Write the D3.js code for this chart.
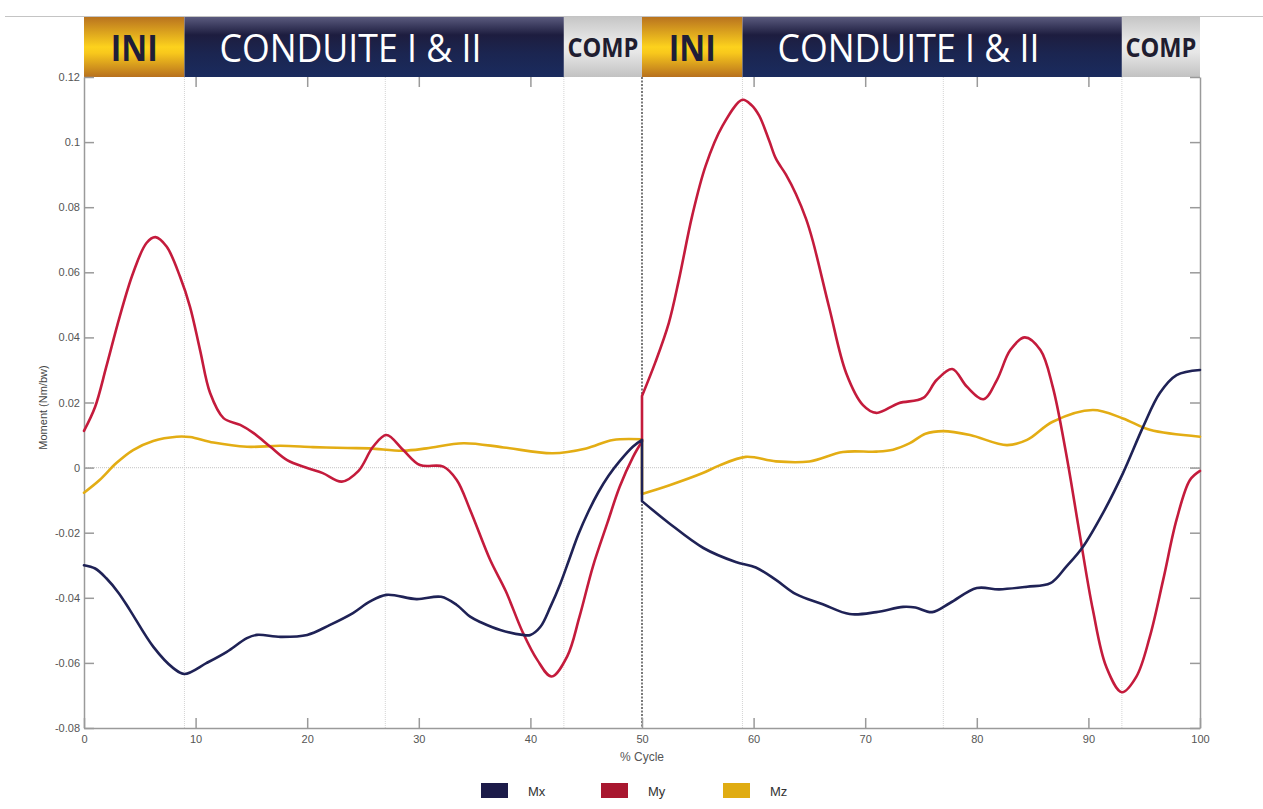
<!DOCTYPE html>
<html>
<head>
<meta charset="utf-8">
<script src="https://cdn.jsdelivr.net/npm/d3@7"></script>
<style>
  html, body { margin: 0; padding: 0; background: #fff; }
  svg { display: block; }
  text { font-family: "Liberation Sans", Arial, Helvetica, sans-serif; }
</style>
</head>
<body>
<svg id="chart" width="1263" height="809"></svg>
<script>
// ---- data: moments over the gait cycle (two halves, discontinuous at 50 %) ----
const mxFirst = [[0,-0.030],[1,-0.031],[2,-0.034],[3.1,-0.0385],[4.1,-0.0437],[6.2,-0.055],[8,-0.0616],[9,-0.0634],[11,-0.060],[12.8,-0.0566],[14.6,-0.0524],[15.5,-0.0514],[17.6,-0.052],[20,-0.0514],[22,-0.0484],[24.1,-0.0447],[25.6,-0.0412],[27.1,-0.0391],[29.8,-0.0404],[32,-0.0397],[33.4,-0.0422],[34.6,-0.0458],[35.6,-0.0476],[37.3,-0.0499],[39.3,-0.0514],[40,-0.0514],[40.9,-0.0489],[41.8,-0.0427],[42.7,-0.0355],[43.5,-0.028],[44.3,-0.0205],[45.2,-0.0135],[46.1,-0.0075],[47,-0.0025],[48,0.002],[49.2,0.0065],[50,0.0085]];
const myFirst = [[0,0.0113],[1,0.0187],[2,0.031],[3.2,0.0464],[4.4,0.0598],[5.6,0.069],[6.4,0.0708],[7.4,0.0679],[8.6,0.0587],[9.5,0.0494],[10.4,0.0361],[11.3,0.0229],[12.5,0.0152],[14,0.0131],[15.2,0.0106],[16.7,0.0064],[18.2,0.0023],[20,-0.0001],[21.4,-0.0017],[23.1,-0.0043],[24.6,-0.001],[25.9,0.0064],[27.1,0.010],[28.6,0.0054],[30.1,0.0008],[32.2,0.0003],[33.4,-0.0038],[34.6,-0.013],[36.4,-0.0284],[37.8,-0.038],[39.3,-0.0505],[40.6,-0.059],[41.9,-0.0642],[43.3,-0.058],[44.4,-0.0458],[45.6,-0.0304],[46.9,-0.017],[48,-0.0059],[49.2,0.0033],[50,0.008]];
const mzFirst = [[0,-0.0077],[1.4,-0.0038],[2.9,0.0014],[4.4,0.0054],[6.2,0.0082],[8.3,0.0095],[9.5,0.0094],[11.6,0.0077],[14.6,0.0064],[17.6,0.0067],[20.5,0.0063],[23.6,0.006],[25.6,0.0059],[28.6,0.0052],[30.7,0.0059],[34,0.0075],[37.6,0.0062],[42,0.0044],[45,0.0059],[47.4,0.0085],[50,0.0087]];

const mxSecond = [[50,-0.0103],[52.4,-0.017],[55.5,-0.0247],[58.4,-0.029],[60.2,-0.0307],[62,-0.0345],[63.8,-0.0389],[66.2,-0.042],[68.6,-0.045],[71,-0.0444],[73.4,-0.0428],[74.5,-0.043],[76,-0.0444],[77.6,-0.0416],[80,-0.037],[82,-0.0374],[84.5,-0.0366],[86.6,-0.0355],[88,-0.0305],[89.5,-0.0244],[91.3,-0.014],[93.1,-0.0017],[94.9,0.0125],[96.4,0.0229],[97.9,0.0284],[100,0.030]];
const mySecond = [[50,0.022],[51.2,0.0324],[52.4,0.0444],[53.3,0.0576],[54.5,0.0774],[55.7,0.0927],[57.2,0.1049],[59,0.113],[59.8,0.1114],[60.5,0.1081],[61.4,0.1004],[62,0.0949],[62.9,0.090],[63.8,0.084],[64.7,0.0764],[65.3,0.0697],[66.8,0.0488],[68.3,0.029],[69.8,0.0192],[71,0.0168],[73,0.0198],[75.2,0.0214],[76.4,0.0269],[77.8,0.0303],[79.1,0.0249],[80.6,0.021],[81.8,0.0269],[83,0.0361],[84.3,0.040],[85.7,0.0361],[86.8,0.0249],[88,0.0044],[89.2,-0.020],[90.4,-0.0437],[91.6,-0.0612],[93,-0.069],[94.3,-0.0642],[95.5,-0.052],[96.7,-0.0345],[97.9,-0.016],[99.1,-0.0038],[100,-0.001]];
const mzSecond = [[50,-0.0081],[52.4,-0.0055],[55.5,-0.0016],[56.9,0.0006],[59.3,0.0033],[62,0.0019],[65,0.0019],[68,0.0048],[71,0.0049],[72.5,0.0055],[74,0.0075],[75.4,0.0104],[77,0.0112],[79.4,0.010],[82.7,0.0069],[84.5,0.0085],[86.8,0.0141],[90.4,0.0177],[93.1,0.0151],[95.5,0.0116],[100,0.0095]];

const seriesNames = ["Mx", "My", "Mz"];
const seriesColors = ["#1f2256", "#c41b3c", "#e3ad14"];
const legendColors = ["#1c1b49", "#a8172f", "#e0ac12"];

// phase bands along the top (start %, end %, label)
const phaseStarts = [0, 9, 43, 50, 59, 93];
const phaseEnds   = [9, 43, 50, 59, 93, 100];
const phaseLabels = ["INI", "CONDUITE I & II", "COMP", "INI", "CONDUITE I & II", "COMP"];
const phaseKinds  = ["ini", "cond", "comp", "ini", "cond", "comp"];

// phase boundaries drawn as faint dotted verticals
const phaseLines = [9, 27, 43, 59, 77, 93];

const xTicks = [0, 10, 20, 30, 40, 50, 60, 70, 80, 90, 100];
const yTicks = [0.12, 0.1, 0.08, 0.06, 0.04, 0.02, 0, -0.02, -0.04, -0.06, -0.08];
const yTickLabels = ["0.12", "0.1", "0.08", "0.06", "0.04", "0.02", "0", "-0.02", "-0.04", "-0.06", "-0.08"];

(function draw() {
  const svg = d3.select("#chart");
  const pLeft = 84, pRight = 1200, pTop = 77, pBottom = 728;
  const x = d3.scaleLinear().domain([0, 100]).range([pLeft, pRight]);
  const y = d3.scaleLinear().domain([-0.08, 0.12]).range([pBottom, pTop]);

  const defs = svg.append("defs");
  function vGrad(id, stops) {
    const g = defs.append("linearGradient").attr("id", id)
      .attr("x1", 0).attr("y1", 0).attr("x2", 0).attr("y2", 1);
    stops.forEach(([o, c]) => g.append("stop").attr("offset", o).attr("stop-color", c));
  }
  vGrad("g-ini",  [[0, "#b9731f"], [0.5, "#fdd21d"], [0.6, "#f8c81c"], [1, "#b7701e"]]);
  vGrad("g-cond", [[0, "#5a5a7e"], [0.3, "#1d1d3f"], [0.6, "#1b2550"], [1, "#1a2b5e"]]);
  vGrad("g-comp", [[0, "#c6c6c6"], [0.45, "#ebebeb"], [0.6, "#e6e6e6"], [1, "#c2c2c2"]]);

  // thin rule across the top
  svg.append("line").attr("x1", 5).attr("x2", 1263).attr("y1", 16.5).attr("y2", 16.5)
    .attr("stroke", "#c4c4c4").attr("stroke-width", 1.2);

  // phase band header
  const header = svg.append("g");
  phaseStarts.forEach((s, i) => {
    const x0 = x(s), x1 = x(phaseEnds[i]);
    header.append("rect").attr("x", x0).attr("y", 17).attr("width", x1 - x0).attr("height", pTop - 17)
      .attr("fill", `url(#g-${phaseKinds[i]})`);
    const kind = phaseKinds[i];
    const t = header.append("text").text(phaseLabels[i])
      .style("font-family", "'Liberation Sans Narrow', 'Open Sans', 'Liberation Sans', sans-serif");
    if (kind === "ini") {
      t.attr("x", (x0 + x1) / 2).attr("y", 61).attr("text-anchor", "middle")
        .attr("font-size", 35).attr("font-weight", "bold").attr("fill", "#1f1d38")
        .attr("textLength", 47).attr("lengthAdjust", "spacingAndGlyphs");
    } else if (kind === "cond") {
      t.attr("x", x0 + 35).attr("y", 62)
        .attr("font-size", 38).attr("fill", "#ffffff")
        .attr("textLength", 262).attr("lengthAdjust", "spacingAndGlyphs");
    } else {
      t.attr("x", (x0 + x1) / 2).attr("y", 57).attr("text-anchor", "middle")
        .attr("font-size", 26).attr("font-weight", "bold").attr("fill", "#1f1d30")
        .attr("textLength", 71).attr("lengthAdjust", "spacingAndGlyphs");
    }
  });

  // dotted guides
  const guides = svg.append("g");
  phaseLines.forEach(p => {
    guides.append("line").attr("x1", x(p)).attr("x2", x(p)).attr("y1", pTop).attr("y2", pBottom)
      .attr("stroke", "#d4d4d4").attr("stroke-width", 1).attr("stroke-dasharray", "1,1");
  });
  guides.append("line").attr("x1", pLeft).attr("x2", pRight).attr("y1", y(0)).attr("y2", y(0))
    .attr("stroke", "#cfcfcf").attr("stroke-width", 1.2).attr("stroke-dasharray", "1,1");
  guides.append("line").attr("x1", x(50)).attr("x2", x(50)).attr("y1", pTop).attr("y2", pBottom)
    .attr("stroke", "#222").attr("stroke-width", 1.2).attr("stroke-dasharray", "2,1.5");

  // axes
  function styleAxis(g) {
    g.selectAll(".domain").attr("stroke", "#9a9a9a").attr("stroke-width", 1.5);
    g.selectAll(".tick line").attr("stroke", "#9a9a9a").attr("stroke-width", 1.5);
    g.selectAll(".tick text").attr("fill", "#555").attr("font-size", 11)
      .style("font-family", "'Liberation Sans', Arial, sans-serif");
  }
  svg.append("g").attr("transform", `translate(0,${pBottom})`)
    .call(d3.axisBottom(x).tickValues(xTicks).tickSizeInner(-10).tickSizeOuter(0).tickPadding(7))
    .call(styleAxis);
  svg.append("g").attr("transform", `translate(${pLeft},0)`)
    .call(d3.axisLeft(y).tickValues(yTicks).tickSizeInner(-10).tickSizeOuter(0).tickPadding(4)
      .tickFormat((d, i) => yTickLabels[i]))
    .call(styleAxis);
  svg.append("g").attr("transform", `translate(${pRight},0)`)
    .call(d3.axisRight(y).tickValues(yTicks).tickSizeInner(-10).tickSizeOuter(0).tickFormat(""))
    .call(styleAxis);
  const topAxis = svg.append("g").attr("transform", `translate(0,${pTop})`)
    .call(d3.axisTop(x).tickValues(xTicks.filter(v => v > 0 && v < 100 && v !== 50))
      .tickSizeInner(-10).tickSizeOuter(0).tickFormat(""))
    .call(styleAxis);
  topAxis.select(".domain").remove();

  // axis titles
  svg.append("text").attr("x", x(50)).attr("y", 761).attr("text-anchor", "middle")
    .attr("font-size", 12).attr("fill", "#555").text("% Cycle");
  svg.append("text").attr("transform", `translate(47,${(pTop + pBottom) / 2 + 5}) rotate(-90)`)
    .attr("text-anchor", "middle").attr("font-size", 11).attr("fill", "#444").text("Moment (Nm/bw)");

  // curves: each series is two smooth halves joined by a vertical step at 50 %
  const line = d3.line().x(d => x(d[0])).y(d => y(d[1])).curve(d3.curveCatmullRom.alpha(0.5));
  const halves = [[mxFirst, mxSecond], [myFirst, mySecond], [mzFirst, mzSecond]];
  [2, 1, 0].forEach(i => {
    const [a, b] = halves[i];
    const d = line(a) + line(b).replace(/^M/, "L");
    svg.append("path").attr("d", d).attr("fill", "none")
      .attr("stroke", seriesColors[i]).attr("stroke-width", 2.6)
      .attr("stroke-linejoin", "round").attr("stroke-linecap", "round");
  });

  // legend
  const legendX = [481, 601, 723];
  seriesNames.forEach((n, i) => {
    svg.append("rect").attr("x", legendX[i]).attr("y", 783).attr("width", 27).attr("height", 15)
      .attr("fill", legendColors[i]);
    svg.append("text").attr("x", legendX[i] + 47).attr("y", 796)
      .attr("font-size", 13).attr("fill", "#333").text(n);
  });
})();
</script>
</body>
</html>
